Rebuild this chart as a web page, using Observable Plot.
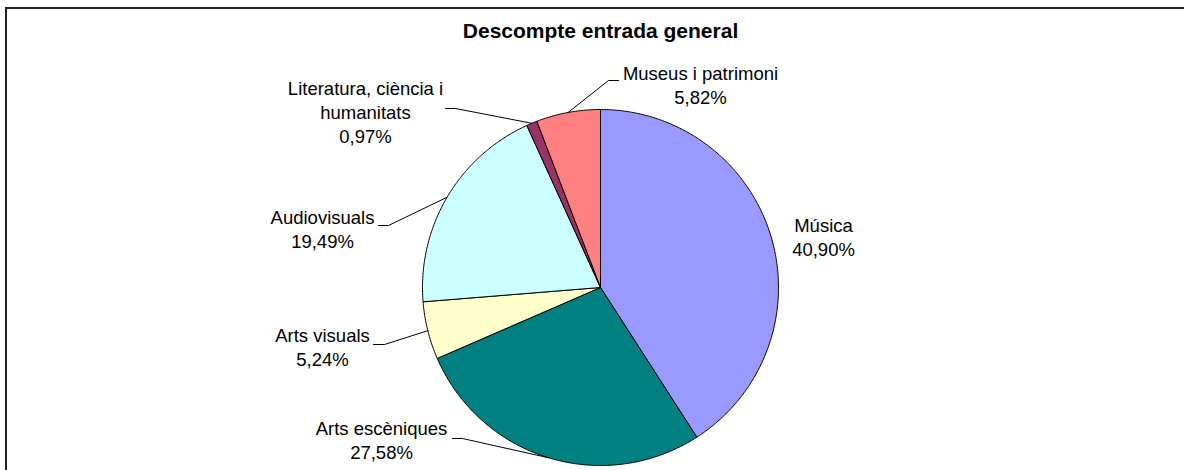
<!DOCTYPE html>
<html>
<head>
<meta charset="utf-8">
<script src="https://cdn.jsdelivr.net/npm/d3@7"></script>
<script src="https://cdn.jsdelivr.net/npm/@observablehq/plot@0.6"></script>
<style>
  html, body { margin: 0; padding: 0; background: #fff; overflow: hidden; }
  #wrap { position: relative; width: 1184px; height: 470px; }
  #frame { position: absolute; left: 5px; top: 7px; width: 1300px; height: 1000px;
           border: 2px solid #222; pointer-events: none; }
</style>
</head>
<body>
<div id="wrap"><div id="chart"></div><div id="frame"></div></div>
<script>
// ---- data ----
const title = "Descompte entrada general";
const categories = ["Música", "Arts escèniques", "Arts visuals", "Audiovisuals",
  "Literatura, ciència i humanitats", "Museus i patrimoni"];
const values = [40.90, 27.58, 5.24, 19.49, 0.97, 5.82];
const colors = ["#9999FF", "#008080", "#FFFFCC", "#CCFFFF", "#993366", "#FF8080"];

// ---- layout (pixels) ----
const W = 1184, H = 470, CX = 600, CY = 287, R = 178;
const labelPos = [[823, 235.5], [381, 438.5], [322, 345.5], [322, 227.5], [365, 111], [700, 83.5]];
const leaderEnds = [null, [[462, 438], [452, 438]], [[384, 344], [373, 344]], [[388, 225], [378, 225]],
  [[455, 108], [445, 108]], [[608, 80], [618, 80]]];
const font = "Arial, 'Liberation Sans', sans-serif";

const arcs = d3.pie().sort(null).value(d => d)(values);
const px = a => R * Math.sin(a), py = a => -R * Math.cos(a);

const sliceMarks = arcs.map((a, i) => {
  const pts = [[0, 0]];
  const n = Math.max(2, Math.ceil((a.endAngle - a.startAngle) / (Math.PI / 360)));
  for (let k = 0; k <= n; k++) {
    const t = a.startAngle + (a.endAngle - a.startAngle) * k / n;
    pts.push([px(t), py(t)]);
  }
  pts.push([0, 0]);
  return Plot.line(pts, {x: d => d[0], y: d => d[1], fill: colors[i], stroke: "black", strokeWidth: 1, curve: "linear"});
});

const leaderMarks = arcs.map((a, i) => {
  if (!leaderEnds[i]) return null;
  const m = (a.startAngle + a.endAngle) / 2;
  const pts = [[px(m), py(m)], ...leaderEnds[i].map(([x, y]) => [x - CX, y - CY])];
  return Plot.line(pts, {x: d => d[0], y: d => d[1], stroke: "black", strokeWidth: 1});
}).filter(Boolean);

const fmt = v => v.toFixed(2).replace(".", ",") + "%";
const labels = categories.map((c, i) => ({
  text: c.replace("ciència i ", "ciència i\n") + "\n" + fmt(values[i]),
  x: labelPos[i][0] - CX, y: labelPos[i][1] - CY
}));

const chart = Plot.plot({
  width: W, height: H, margin: 0,
  x: {domain: [-CX, W - CX], range: [0, W], axis: null},
  y: {domain: [-CY, H - CY], range: [0, H], axis: null},
  style: {background: "transparent", fontFamily: font},
  marks: [
    ...sliceMarks,
    ...leaderMarks,
    Plot.text(labels, {x: "x", y: "y", text: "text", fontSize: 18.5, lineHeight: 1.3,
      fill: "#000", textAnchor: "middle", lineAnchor: "middle"}),
    Plot.text([title], {x: () => 0, y: () => 31 - CY, text: d => d, fontSize: 21,
      fontWeight: "bold", fill: "#000", textAnchor: "middle", lineAnchor: "middle"})
  ]
});
document.getElementById("chart").appendChild(chart);
</script>
</body>
</html>
